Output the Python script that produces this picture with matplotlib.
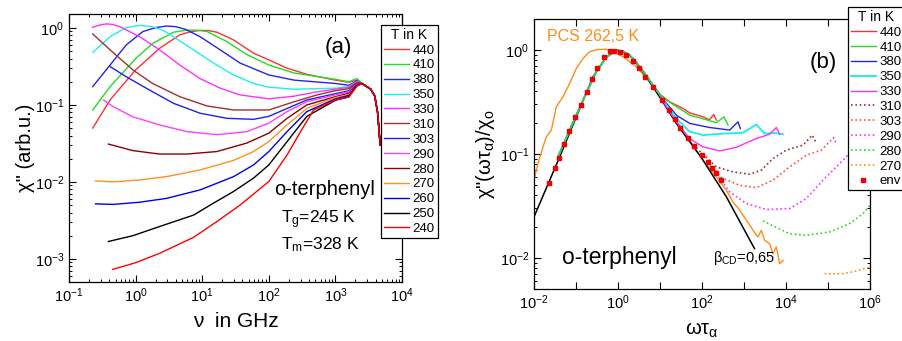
import math

import matplotlib
matplotlib.use("Agg")
import matplotlib.pyplot as plt
from matplotlib.ticker import FuncFormatter, NullLocator

plt.rcParams['font.family'] = ['Liberation Sans', 'DejaVu Sans']
plt.rcParams['mathtext.fontset'] = 'custom'
plt.rcParams['mathtext.rm'] = 'Liberation Sans'
plt.rcParams['mathtext.it'] = 'Liberation Sans:italic'

# ---------- panel (a): spectra, nu in GHz ----------
temps_a = ["440", "410", "380", "350", "330", "310", "303", "290", "280", "270", "260", "250", "240"]
colors_a = ["#ff3030", "#22dd22", "#2424e6", "#22eeee", "#ff30ff", "#a03030", "#2020e0",
            "#ff40ff", "#8b0000", "#ff9020", "#0000ee", "#000000", "#ff0000"]

nu_440 = [0.227, 0.414, 1.0, 2.29, 4.57, 6.5, 9.3, 12.5, 16.6, 29.5, 59, 100, 188, 372, 1000, 1590, 2100]
chi_440 = [0.050, 0.116, 0.285, 0.544, 0.81, 0.89, 0.93, 0.925, 0.88, 0.70, 0.47, 0.385, 0.30, 0.25, 0.21, 0.197, 0.21]
nu_410 = [0.227, 0.414, 1.0, 1.8, 3.7, 5.9, 8.5, 11.8, 23.5, 47, 100, 240, 1000, 1590, 2100]
chi_410 = [0.086, 0.173, 0.40, 0.63, 0.88, 0.94, 0.935, 0.90, 0.665, 0.45, 0.33, 0.26, 0.215, 0.20, 0.22]
nu_380 = [0.227, 0.414, 0.72, 1.29, 2.0, 2.9, 4.0, 5.6, 9.3, 18.6, 37, 100, 240, 1000, 1590, 2100]
chi_380 = [0.173, 0.33, 0.60, 0.90, 1.01, 1.06, 1.04, 0.96, 0.77, 0.52, 0.35, 0.245, 0.21, 0.19, 0.18, 0.205]
nu_350 = [0.227, 0.414, 0.72, 1.15, 1.8, 2.6, 3.7, 7.4, 14.8, 29.5, 59, 100, 240, 1000, 1590, 2100]
chi_350 = [0.48, 0.77, 1.01, 1.08, 1.04, 0.93, 0.77, 0.52, 0.35, 0.245, 0.19, 0.17, 0.16, 0.165, 0.173, 0.20]
nu_330 = [0.227, 0.3, 0.37, 0.46, 0.58, 1.15, 2.29, 4.6, 9.3, 18.6, 37, 100, 240, 530, 1000, 1590, 2100]
chi_330 = [1.02, 1.10, 1.13, 1.11, 1.04, 0.77, 0.52, 0.33, 0.22, 0.165, 0.135, 0.12, 0.13, 0.148, 0.16, 0.17, 0.20]
nu_310 = [0.227, 0.414, 0.91, 1.8, 4.6, 11.8, 29.5, 100, 240, 530, 1000, 1590, 2100]
chi_310 = [0.836, 0.52, 0.285, 0.19, 0.128, 0.097, 0.086, 0.086, 0.11, 0.135, 0.153, 0.163, 0.195]
nu_303 = [0.414, 0.72, 1.6, 3.7, 9.3, 23.5, 59, 100, 188, 372, 1000, 1590, 2100]
chi_303 = [0.315, 0.233, 0.157, 0.105, 0.078, 0.067, 0.065, 0.071, 0.09, 0.116, 0.14, 0.153, 0.19]
nu_290 = [0.33, 0.46, 0.91, 2.29, 5.9, 16.6, 47, 100, 188, 372, 1000, 1590, 2100]
chi_290 = [0.116, 0.095, 0.07, 0.055, 0.045, 0.041, 0.045, 0.058, 0.082, 0.11, 0.135, 0.148, 0.188]
nu_280 = [0.39, 0.91, 2.29, 5.9, 16.6, 47, 100, 188, 372, 1000, 1590, 2100]
chi_280 = [0.031, 0.0255, 0.023, 0.023, 0.0248, 0.032, 0.043, 0.067, 0.10, 0.128, 0.142, 0.185]
nu_270 = [0.25, 0.46, 1.15, 2.9, 9.3, 29.5, 59, 100, 188, 372, 1000, 1590, 2100]
chi_270 = [0.0103, 0.010, 0.0106, 0.0117, 0.0143, 0.019, 0.0248, 0.0334, 0.055, 0.09, 0.125, 0.137, 0.18]
nu_260 = [0.25, 0.46, 1.15, 2.9, 9.3, 29.5, 59, 100, 188, 372, 1000, 1590, 2100]
chi_260 = [0.00518, 0.0051, 0.00544, 0.0061, 0.00787, 0.0117, 0.0166, 0.0248, 0.045, 0.082, 0.12, 0.133, 0.18]
nu_250 = [0.39, 0.91, 2.29, 7.4, 14.8, 29.5, 59, 100, 188, 372, 1000, 1590, 2100]
chi_250 = [0.00168, 0.002, 0.00263, 0.0037, 0.0053, 0.0075, 0.0112, 0.0166, 0.0334, 0.071, 0.115, 0.128, 0.178]
nu_240 = [0.455, 1.0, 2.29, 7.4, 16.6, 37, 100, 188, 300, 470, 1000, 1590, 2100]
chi_240 = [0.00073, 0.00089, 0.00118, 0.0019, 0.00305, 0.005, 0.0101, 0.0224, 0.045, 0.086, 0.116, 0.126, 0.175]

# common high-frequency tail (all temperatures merge)
tail_nu = [2500, 3400, 3900, 4300, 4700]
tail_chi = [0.19, 0.16, 0.13, 0.08, 0.03]

curves_a = [(nu_440, chi_440), (nu_410, chi_410), (nu_380, chi_380), (nu_350, chi_350),
            (nu_330, chi_330), (nu_310, chi_310), (nu_303, chi_303), (nu_290, chi_290),
            (nu_280, chi_280), (nu_270, chi_270), (nu_260, chi_260), (nu_250, chi_250),
            (nu_240, chi_240)]

# ---------- panel (b): scaled spectra vs omega*tau ----------
cd_x = [0.01, 0.041, 0.102, 0.254, 0.53, 1.0, 1.9, 3.9, 9.8, 24.5, 100, 380, 1780]
cd_y = [0.0248, 0.094, 0.228, 0.553, 0.86, 1.0, 0.895, 0.618, 0.355, 0.197, 0.0905, 0.0388, 0.0123]

env_x = [0.0223, 0.0316, 0.0394, 0.0518, 0.068, 0.0946, 0.1315, 0.183, 0.245, 0.322, 0.465,
         0.645, 0.80, 1.12, 1.58, 2.23, 3.16, 4.48, 6.94, 10.96, 16.1, 23.2, 29.9, 46.4,
         65.6, 100, 139, 176, 219, 289]
env_y = [0.0527, 0.074, 0.0925, 0.124, 0.167, 0.228, 0.293, 0.397, 0.521, 0.676, 0.85,
         0.97, 0.985, 0.963, 0.889, 0.789, 0.666, 0.553, 0.443, 0.33, 0.264, 0.215, 0.176,
         0.144, 0.12, 0.0975, 0.084, 0.0736, 0.0664, 0.0568]

# alpha peak shared by the solid (high T) curves
master_x = [0.0379, 0.0706, 0.147, 0.305, 0.527, 0.75, 0.912, 1.315, 2.28, 3.94, 6.8, 9.8]
master_y = [0.0953, 0.170, 0.33, 0.618, 0.85, 0.95, 0.985, 0.978, 0.83, 0.632, 0.46, 0.377]

wt_440 = [17, 35, 51, 106, 150, 190, 220]
s_440 = [0.318, 0.275, 0.249, 0.228, 0.213, 0.24, 0.212]
wt_410 = [14.2, 51, 152, 219, 334, 416]
s_410 = [0.33, 0.237, 0.209, 0.20, 0.228, 0.19]
wt_380 = [14, 25, 51, 152, 456, 720, 818]
s_380 = [0.31, 0.235, 0.197, 0.18, 0.17, 0.204, 0.176]
wt_350 = [14.2, 29.4, 51, 106, 316, 946, 1970, 3100, 4900, 8490]
s_350 = [0.295, 0.204, 0.164, 0.152, 0.157, 0.16, 0.192, 0.157, 0.16, 0.155]
wt_330 = [14.2, 24.5, 51, 106, 263, 656, 1970, 4080, 5890, 7060]
s_330 = [0.285, 0.204, 0.141, 0.117, 0.107, 0.116, 0.141, 0.155, 0.18, 0.155]

wt_310 = [73, 219, 547, 1365, 2590, 4900, 10180, 25400, 42400, 50800]
s_310 = [0.115, 0.0752, 0.0673, 0.064, 0.070, 0.0905, 0.109, 0.1216, 0.152, 0.131]
wt_303 = [114, 289, 789, 1970, 4900, 12200, 30500, 69300, 136000, 158000]
s_303 = [0.094, 0.0594, 0.050, 0.0475, 0.056, 0.0752, 0.0975, 0.109, 0.144, 0.126]
wt_290 = [219, 456, 1140, 3400, 12200, 30500, 76000, 158000, 273000, 400000]
s_290 = [0.065, 0.0432, 0.0334, 0.0292, 0.0299, 0.0373, 0.056, 0.0752, 0.094, 0.12]
wt_280 = [2830, 12200, 30500, 110000, 328000, 681000, 1000000, 1300000]
s_280 = [0.0227, 0.0171, 0.0165, 0.0178, 0.0214, 0.0267, 0.032, 0.04]
wt_270 = [83000, 228000, 473000, 1000000]
s_270 = [0.00706, 0.00706, 0.0075, 0.0082]

pcs_x = [0.01, 0.0124, 0.0164, 0.0197, 0.0259, 0.034, 0.049, 0.0706, 0.102, 0.147, 0.211,
         0.334, 0.527, 0.76, 1.315, 2.73, 5.68, 11.8, 24.5, 50.8, 106, 219, 379, 547, 789,
         1140, 1640, 2150, 2590, 3100, 4080, 4900, 5890, 7060, 8490]
pcs_y = [0.056, 0.081, 0.117, 0.146, 0.17, 0.285, 0.355, 0.477, 0.666, 0.83, 0.963,
         1.015, 1.015, 0.963, 0.863, 0.69, 0.495, 0.33, 0.212, 0.136, 0.0872, 0.0603,
         0.0449, 0.0346, 0.0288, 0.0231, 0.0185, 0.0159, 0.0185, 0.0148, 0.0137, 0.011,
         0.0128, 0.0088, 0.0095]

temps_b = ["440", "410", "380", "350", "330", "310", "303", "290", "280", "270"]
colors_b = ["#ff3030", "#22dd22", "#2424e6", "#22eeee", "#ff30ff",
            "#a03030", "#ff5050", "#ff30ff", "#22dd22", "#ff9020"]
solid_b = [(wt_440, s_440), (wt_410, s_410), (wt_380, s_380), (wt_350, s_350), (wt_330, s_330)]
dotted_b = [(wt_310, s_310), (wt_303, s_303), (wt_290, s_290), (wt_280, s_280), (wt_270, s_270)]


def style_axes(ax):
    ax.tick_params(which="both", direction="in", top=True, right=True, labelsize=10.5)
    ax.tick_params(which="major", length=5, width=0.8)
    ax.tick_params(which="minor", length=2.5, width=0.7)
    for sp in ax.spines.values():
        sp.set_linewidth(0.9)


def make_legend(ax, anchor):
    leg = ax.legend(title="T in K", loc="upper left", bbox_to_anchor=anchor,
                    bbox_transform=fig.transFigure, fontsize=9.5, title_fontsize=10,
                    frameon=True, fancybox=False, edgecolor="black", framealpha=1,
                    borderpad=0.2, labelspacing=0.2, handlelength=1.95, handletextpad=0.25,
                    borderaxespad=0)
    leg.get_frame().set_linewidth(0.9)
    return leg


def decade_label(v, pos):
    k = round(math.log10(v))
    return "" if k % 2 else "$\\mathdefault{10^{%d}}$" % k


fig = plt.figure(figsize=(9.02, 3.41), dpi=100)
ax_a = fig.add_axes([0.0765, 0.173, 0.3692, 0.786])
ax_b = fig.add_axes([0.592, 0.1525, 0.3725, 0.7918])

# ---- (a)
for (x, y), t, c in zip(curves_a, temps_a, colors_a):
    ax_a.plot(x + tail_nu, y + tail_chi, color=c, lw=1.0, label=t)
ax_a.set_xscale("log")
ax_a.set_yscale("log")
ax_a.set_xlim(0.1, 1e4)
ax_a.set_ylim(5e-4, 1.52)
style_axes(ax_a)
ax_a.set_xlabel("ν  in GHz", fontsize=15, labelpad=5)
ax_a.set_ylabel('χ" (arb.u.)', fontsize=14.5, labelpad=0)
ax_a.text(0.81, 0.875, "(a)", transform=ax_a.transAxes, fontsize=16, ha="center", va="center")
ax_a.text(0.615, 0.345, "o-terphenyl", transform=ax_a.transAxes, fontsize=14.5, ha="left", va="center")
ax_a.text(0.638, 0.232, "T$_\\mathregular{g}$=245 K", transform=ax_a.transAxes, fontsize=12.5, ha="left", va="center")
ax_a.text(0.638, 0.138, "T$_\\mathregular{m}$=328 K", transform=ax_a.transAxes, fontsize=12.5, ha="left", va="center")
make_legend(ax_a, (0.4224, 0.9267))

# ---- (b)
ax_b.plot(pcs_x, pcs_y, color="#ff8c1a", lw=1.0)
ax_b.plot(cd_x, cd_y, color="black", lw=1.1)
for (x, y), t, c in zip(solid_b, temps_b[:5], colors_b[:5]):
    lw = 1.4 if t == "350" else 1.0
    z = 3 if t == "410" else 2
    ax_b.plot(master_x + x, master_y + y, color=c, lw=lw, label=t, zorder=z)
for (x, y), t, c in zip(dotted_b, temps_b[5:], colors_b[5:]):
    ax_b.plot(x, y, color=c, lw=1.2, ls=(0, (1, 1.6)), label=t)
ax_b.plot(env_x, env_y, ls="none", marker="s", ms=3.2, color="#ee0000", label="env", zorder=4)
ax_b.set_xscale("log")
ax_b.set_yscale("log")
ax_b.set_xlim(1e-2, 1e6)
ax_b.set_ylim(5.03e-3, 1.99)
style_axes(ax_b)
ax_b.set_xticks([10.0 ** k for k in range(-2, 7)])
ax_b.xaxis.set_major_formatter(FuncFormatter(decade_label))
ax_b.xaxis.set_minor_locator(NullLocator())
ax_b.set_xlabel("ωτ$_\\mathregular{α}$", fontsize=14.5, labelpad=6)
ax_b.set_ylabel('χ"(ωτ$_\\mathregular{α}$)/χ$_\\mathregular{o}$', fontsize=14.5, labelpad=2)
ax_b.text(0.04, 0.935, "PCS 262,5 K", transform=ax_b.transAxes, fontsize=11.5,
          color="#ff8c1a", ha="left", va="center")
ax_b.text(0.86, 0.84, "(b)", transform=ax_b.transAxes, fontsize=16, ha="center", va="center")
ax_b.text(0.083, 0.118, "o-terphenyl", transform=ax_b.transAxes, fontsize=16.5, ha="left", va="center")
ax_b.text(0.532, 0.115, "β$_\\mathregular{CD}$=0,65", transform=ax_b.transAxes, fontsize=10.5,
          ha="left", va="center")
make_legend(ax_b, (0.9401, 0.979))

fig.savefig("out.png", dpi=100)
